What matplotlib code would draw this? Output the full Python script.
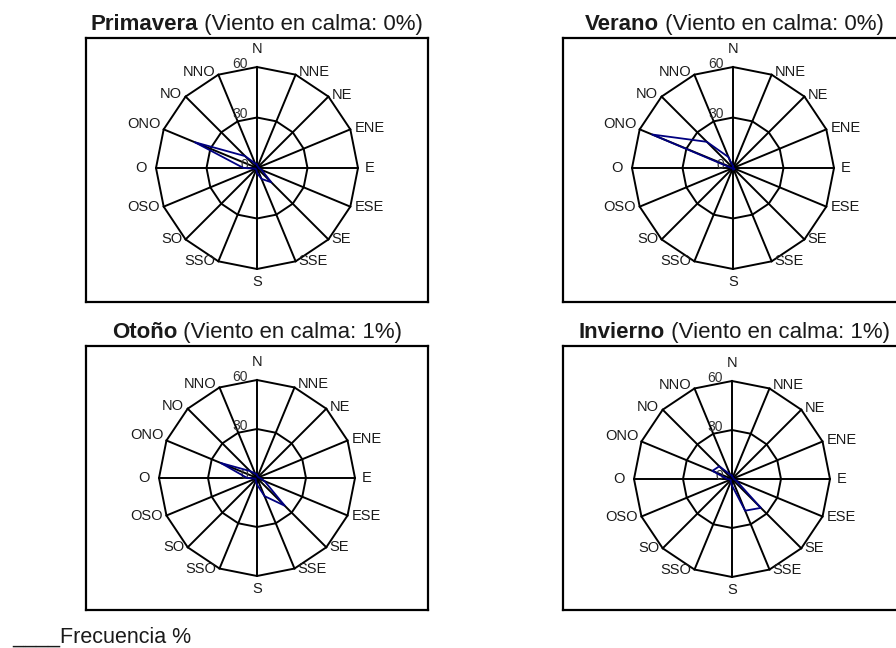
#!/usr/bin/env python3
import numpy as np
import matplotlib
matplotlib.use("Agg")
import matplotlib.pyplot as plt

# -------- DATA --------
DIRECTIONS = ["N", "NNE", "NE", "ENE", "E", "ESE", "SE", "SSE",
              "S", "SSO", "SO", "OSO", "O", "ONO", "NO", "NNO"]
RINGS = [30, 60]
TICKS = [0, 30, 60]

primavera = [2, 1, 1, 1, 1, 3, 12, 7, 3, 1, 1, 1, 8, 40, 10, 3]
verano = [1, 0, 0, 0, 0, 1, 1, 1, 1, 0, 0, 0, 1, 52, 22, 7]
otono = [2, 1, 1, 1, 2, 5, 24, 12, 4, 2, 1, 1, 6, 24, 6, 3]
invierno = [2, 1, 1, 1, 1, 3, 25, 21, 4, 2, 1, 1, 3, 13, 11, 3]

seasons = ["Primavera", "Verano", "Otoño", "Invierno"]
calm = [0, 0, 1, 1]
# ----------------------

W, H, DPI = 896, 648, 100
BOX_W, BOX_H = 342, 264
LINE_COLOR = "#000080"
TXT = "#1a1a1a"

plt.rcParams["font.family"] = ["Liberation Sans", "DejaVu Sans"]

# label offsets in pixels (dx, dy up), alignment
LABEL_POS = {
    "N": (0, 18, "center"), "NNE": (3, 3, "left"), "NE": (3, 2, "left"),
    "ENE": (4, 1, "left"), "E": (7, 0, "left"), "ESE": (4, 0, "left"),
    "SE": (3, 0, "left"), "SSE": (3, 0, "left"), "S": (0, -13, "center"),
    "SSO": (-3, 0, "right"), "SO": (-3, 0, "right"), "OSO": (-4, 0, "right"),
    "O": (-9, 0, "right"), "ONO": (-3, 5, "right"), "NO": (-4, 3, "right"),
    "NNO": (-3, 3, "right"),
}


def px2pt(v):
    return v * 72.0 / DPI


def xy(r, i):
    a = np.deg2rad(i * 22.5)
    return r * np.sin(a), r * np.cos(a)


def draw_rose(ax, values, radius_px, cx_px, cy_px):
    ppu = radius_px / 60.0
    ax.set_xlim(-cx_px / ppu, (BOX_W - cx_px) / ppu)
    ax.set_ylim(-(BOX_H - cy_px) / ppu, cy_px / ppu)
    ax.set_xticks([])
    ax.set_yticks([])
    for s in ax.spines.values():
        s.set_linewidth(1.6)

    n = len(DIRECTIONS)
    for r in RINGS:
        pts = [xy(r, i) for i in range(n + 1)]
        ax.plot([p[0] for p in pts], [p[1] for p in pts], color="black", lw=1.4, zorder=1)
    for i in range(n):
        x, y = xy(60, i)
        ax.plot([0, x], [0, y], color="black", lw=1.4, zorder=1)

    pts = [xy(values[i], i) for i in range(n)] + [xy(values[0], 0)]
    ax.plot([p[0] for p in pts], [p[1] for p in pts], color=LINE_COLOR, lw=1.3, zorder=3)

    for i, d in enumerate(DIRECTIONS):
        dx, dy, ha = LABEL_POS[d]
        ax.annotate(d, xy(60, i), xytext=(px2pt(dx), px2pt(dy)), textcoords="offset points",
                    ha=ha, va="center", fontsize=10.5, color=TXT, annotation_clip=False)
    for t in TICKS:
        ax.annotate(str(t), (0, t), xytext=(px2pt(-9), px2pt(3)), textcoords="offset points",
                    ha="right", va="center", fontsize=10, color="#333333", zorder=2)


def title(fig, name, c, cx_px, base_px):
    t1 = fig.text(0, 1 - base_px / H, name, fontsize=16, fontweight="bold",
                  ha="left", va="baseline", color=TXT)
    t2 = fig.text(0, 1 - base_px / H, f" (Viento en calma: {c}%)", fontsize=16,
                  ha="left", va="baseline", color=TXT)
    r = fig.canvas.get_renderer()
    w1 = t1.get_window_extent(r).width
    w2 = t2.get_window_extent(r).width
    x0 = cx_px - (w1 + w2) / 2
    t1.set_x(x0 / W)
    t2.set_x((x0 + w1) / W)


fig = plt.figure(figsize=(W / DPI, H / DPI), dpi=DPI)

panels = [
    # box left, box top, radius, center offset x, y (px inside box)
    (86, 38, 101, 171, 130, primavera),
    (563, 38, 101, 170, 130, verano),
    (86, 346, 98, 171, 132, otono),
    (563, 346, 98, 169, 133, invierno),
]

for (left, top, rad, cx, cy, vals), name, c in zip(panels, seasons, calm):
    ax = fig.add_axes([left / W, 1 - (top + BOX_H) / H, BOX_W / W, BOX_H / H])
    draw_rose(ax, vals, rad, cx, cy)
    title(fig, name, c, left + BOX_W / 2, top - 8)

fig.text(12 / W, 1 - 643 / H, "____Frecuencia %", fontsize=15.5, ha="left",
         va="baseline", color=TXT)

fig.savefig("out.png", dpi=DPI)
